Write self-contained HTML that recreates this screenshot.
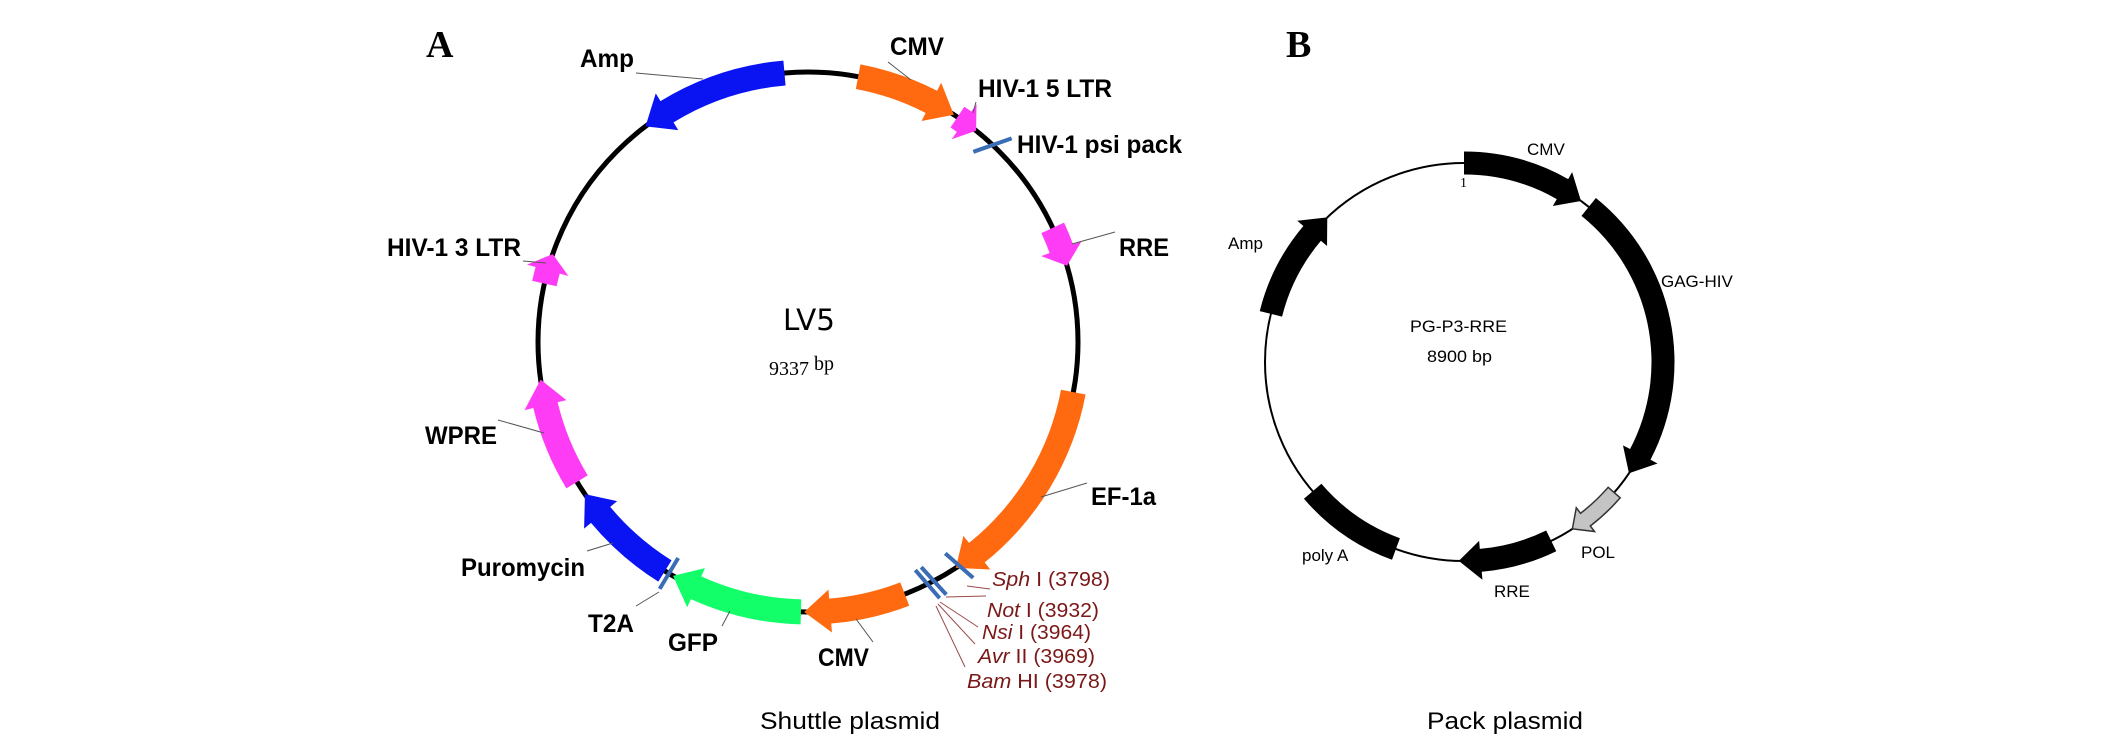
<!DOCTYPE html>
<html><head><meta charset="utf-8">
<style>
html,body{margin:0;padding:0;background:#fff;}
svg{display:block;}
.lb{font-family:"Liberation Sans Narrow","Liberation Sans",sans-serif;font-weight:bold;font-size:25px;fill:#000;}
.rs{font-family:"Liberation Sans",sans-serif;font-size:20px;fill:#7a1818;}
.bl{font-family:"Liberation Sans",sans-serif;font-size:17px;fill:#000;}
</style></head>
<body>
<svg id="s" width="2126" height="744" viewBox="0 0 2126 744" xmlns="http://www.w3.org/2000/svg">
<rect width="2126" height="744" fill="#fff"/>
<!-- Panel A -->
<text x="426" y="57" font-family="Liberation Serif,serif" font-weight="bold" font-size="38">A</text>
<circle cx="808" cy="342" r="270" fill="none" stroke="#000" stroke-width="5"/>
<g id="featA"></g>
<g stroke="#555" stroke-width="1" fill="none">
<line x1="636" y1="73" x2="703" y2="79"/>
<line x1="888" y1="62" x2="911" y2="80"/>
<line x1="976" y1="102" x2="973" y2="113"/>
<line x1="1115" y1="232" x2="1072" y2="244"/>
<line x1="1087" y1="483" x2="1041" y2="497"/>
<line x1="523" y1="261" x2="546" y2="263"/>
<line x1="498" y1="420" x2="544" y2="433"/>
<line x1="587" y1="551" x2="613" y2="543"/>
<line x1="636" y1="606" x2="659" y2="592"/>
<line x1="722" y1="626" x2="730" y2="611"/>
<line x1="873" y1="642" x2="856" y2="619"/>
</g>
<g stroke="#9a4a4a" stroke-width="1" fill="none">
<line x1="967" y1="586" x2="990" y2="589"/>
<line x1="946" y1="597" x2="986" y2="596"/>
<line x1="940" y1="602" x2="978" y2="627"/>
<line x1="938" y1="604" x2="975" y2="644"/>
<line x1="936" y1="606" x2="965" y2="667"/>
</g>
<text class="lb" x="580" y="67" textLength="54" lengthAdjust="spacingAndGlyphs">Amp</text>
<text class="lb" x="890" y="55" textLength="54" lengthAdjust="spacingAndGlyphs">CMV</text>
<text class="lb" x="978" y="97" textLength="134" lengthAdjust="spacingAndGlyphs">HIV-1 5 LTR</text>
<text class="lb" x="1017" y="153" textLength="165" lengthAdjust="spacingAndGlyphs">HIV-1 psi pack</text>
<text class="lb" x="1119" y="256" textLength="50" lengthAdjust="spacingAndGlyphs">RRE</text>
<text class="lb" x="387" y="256" textLength="134" lengthAdjust="spacingAndGlyphs">HIV-1 3 LTR</text>
<text class="lb" x="425" y="444" textLength="72" lengthAdjust="spacingAndGlyphs">WPRE</text>
<text class="lb" x="1091" y="505" textLength="65" lengthAdjust="spacingAndGlyphs">EF-1a</text>
<text class="lb" x="461" y="576" textLength="124" lengthAdjust="spacingAndGlyphs">Puromycin</text>
<text class="lb" x="588" y="632" textLength="46" lengthAdjust="spacingAndGlyphs">T2A</text>
<text class="lb" x="668" y="651" textLength="50" lengthAdjust="spacingAndGlyphs">GFP</text>
<text class="lb" x="818" y="666" textLength="51" lengthAdjust="spacingAndGlyphs">CMV</text>
<text class="rs" x="992" y="586" textLength="118" lengthAdjust="spacingAndGlyphs"><tspan font-style="italic">Sph</tspan> I (3798)</text>
<text class="rs" x="987" y="617" textLength="112" lengthAdjust="spacingAndGlyphs"><tspan font-style="italic">Not</tspan> I (3932)</text>
<text class="rs" x="982" y="639" textLength="109" lengthAdjust="spacingAndGlyphs"><tspan font-style="italic">Nsi</tspan> I (3964)</text>
<text class="rs" x="978" y="663" textLength="117" lengthAdjust="spacingAndGlyphs"><tspan font-style="italic">Avr</tspan> II (3969)</text>
<text class="rs" x="967" y="688" textLength="140" lengthAdjust="spacingAndGlyphs"><tspan font-style="italic">Bam</tspan> HI (3978)</text>
<text x="783" y="330" font-family="DejaVu Sans,sans-serif" font-size="29" textLength="52" lengthAdjust="spacingAndGlyphs">LV5</text>
<text x="769" y="375" font-family="Liberation Serif,serif" font-size="20"><tspan>9337 </tspan><tspan dy="-5">bp</tspan></text>
<text x="760" y="729" font-family="Liberation Sans,sans-serif" font-size="24" textLength="180" lengthAdjust="spacingAndGlyphs">Shuttle plasmid</text>

<!-- Panel B -->
<text x="1286" y="57" font-family="Liberation Serif,serif" font-weight="bold" font-size="38">B</text>
<circle cx="1464" cy="362" r="199" fill="none" stroke="#000" stroke-width="2"/>
<g id="featB"></g>
<text class="bl" x="1527" y="155">CMV</text>
<text x="1460" y="187" font-family="Liberation Serif,serif" font-size="14">1</text>
<text class="bl" x="1661" y="287">GAG-HIV</text>
<text class="bl" x="1410" y="332" textLength="97" lengthAdjust="spacingAndGlyphs">PG-P3-RRE</text>
<text class="bl" x="1427" y="362" textLength="65" lengthAdjust="spacingAndGlyphs">8900 bp</text>
<text class="bl" x="1581" y="558">POL</text>
<text class="bl" x="1494" y="597">RRE</text>
<text class="bl" x="1302" y="561">poly A</text>
<text class="bl" x="1228" y="249">Amp</text>
<text x="1427" y="729" font-family="Liberation Sans,sans-serif" font-size="24" textLength="156" lengthAdjust="spacingAndGlyphs">Pack plasmid</text>
</svg>
<script>
function P(cx,cy,r,a){a=a*Math.PI/180;return [cx+r*Math.sin(a),cy-r*Math.cos(a)];}
function arrow(cx,cy,r,a1,a2,w,e,hl,fill,stroke,head){
 var dir=a2>a1?1:-1;var h=head?hl/r*180/Math.PI:0;var b=a2-h*dir;
 var ro=r+w/2,ri=r-w/2;var large=Math.abs(b-a1)>180?1:0;
 var sw=dir>0?1:0, sw2=dir>0?0:1;
 var p1=P(cx,cy,ro,a1),p2=P(cx,cy,ro,b),d="M"+p1[0]+","+p1[1]+" A"+ro+","+ro+" 0 "+large+" "+sw+" "+p2[0]+","+p2[1];
 if(head){var q1=P(cx,cy,ro+e,b),t=P(cx,cy,r,a2),q2=P(cx,cy,ri-e,b);
  d+=" L"+q1[0]+","+q1[1]+" L"+t[0]+","+t[1]+" L"+q2[0]+","+q2[1];}
 var p3=P(cx,cy,ri,b),p4=P(cx,cy,ri,a1);
 d+=" L"+p3[0]+","+p3[1]+" A"+ri+","+ri+" 0 "+large+" "+sw2+" "+p4[0]+","+p4[1]+" Z";
 return '<path d="'+d+'" fill="'+fill+'" stroke="'+(stroke||'none')+'" stroke-width="1.5"/>';
}
function tick(cx,cy,r,a,len,col,tilt){var p=P(cx,cy,r-len/2,a-tilt),q=P(cx,cy,r+len/2,a+tilt);
 return '<line x1="'+p[0]+'" y1="'+p[1]+'" x2="'+q[0]+'" y2="'+q[1]+'" stroke="'+col+'" stroke-width="4"/>';}
var A='',cx=808,cy=342,r=270,w=25,e=9,hl=26;
var B='#0a14f2',O='#ff6a10',M='#ff3cf5',G='#12ff6a';
A+=arrow(cx,cy,r,-5,-37,w,e,hl,B,null,1);
A+=arrow(cx,cy,r,10.7,32.7,w,e,hl,O,null,1);
A+=arrow(cx,cy,r,33.6,38.5,w,e,15,M,null,1);
A+=arrow(cx,cy,r,65,73.6,w,e,18,M,null,1);
A+=arrow(cx,cy,r,100.7,146.8,w,e,hl,O,null,1);
A+=arrow(cx,cy,r,159,180.8,w,e,hl,O,null,1);
A+=arrow(cx,cy,r,181.5,210,w,e,hl,G,null,1);
A+=arrow(cx,cy,r,212,235.7,w,e,hl,B,null,1);
A+=arrow(cx,cy,r,238.8,262,w,e,hl,M,null,1);
A+=arrow(cx,cy,r,282.5,289,w,e,17,M,null,1);
var T='#3a6db5';
A+=tick(cx,cy,r,43,36,T,2);A+=tick(cx,cy,r,146,36,T,-1);A+=tick(cx,cy,r,152.3,36,T,-1);A+=tick(cx,cy,r,153.8,36,T,-1);A+=tick(cx,cy,r,211,36,T,0);
document.getElementById('featA').innerHTML=A;
var Bs='',bx=1464,by=362,br=199,bw=23,be=8,bh=22;
Bs+=arrow(bx,by,br,0,36,bw,be,bh,'#000',null,1);
Bs+=arrow(bx,by,br,38.8,124,bw,be,bh,'#000',null,1);
Bs+=arrow(bx,by,br,131,147,16,7,16,'#c4c4c4','#333',1);
Bs+=arrow(bx,by,br,154,181.5,bw,be,bh,'#000',null,1);
Bs+=arrow(bx,by,br,200,229.5,bw,be,bh,'#000',null,0);
Bs+=arrow(bx,by,br,284,316.6,bw,be,bh,'#000',null,1);
document.getElementById('featB').innerHTML=Bs;
</script>
</body></html>
